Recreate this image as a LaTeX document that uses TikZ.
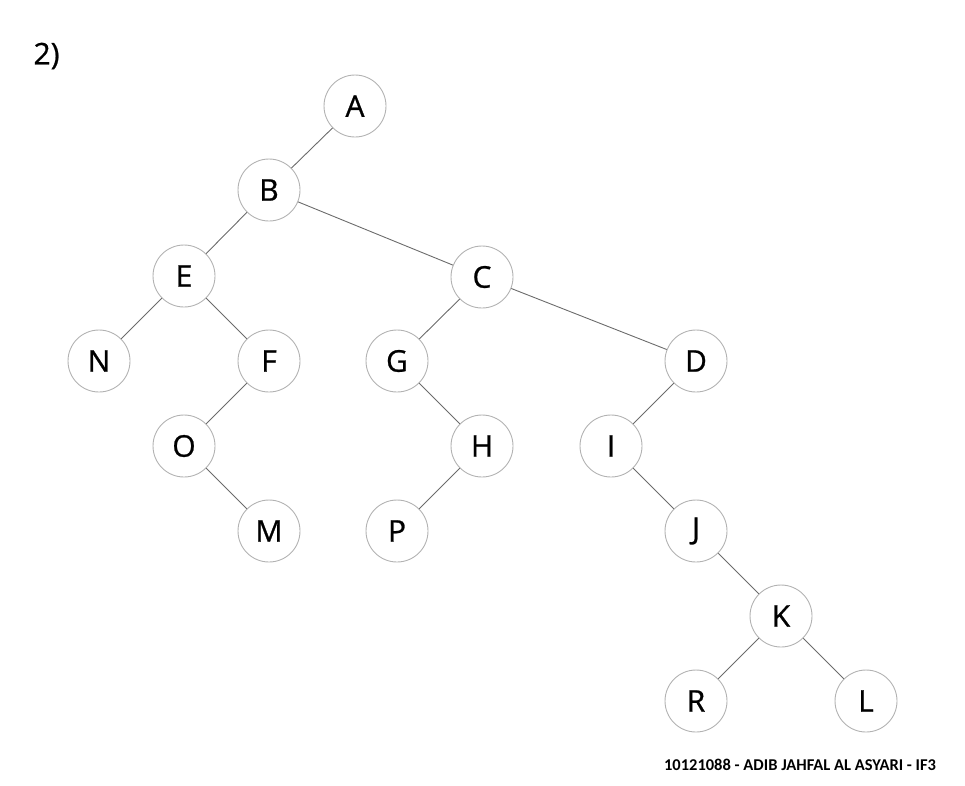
\documentclass[tikz,border=0pt]{standalone}
\usepackage{fontspec}
\setmainfont{Open Sans}
\newfontfamily\nodefont[FakeBold=0.8]{Open Sans}
\newfontfamily\footfont{Carlito}
\begin{document}
\begin{tikzpicture}[x=1pt,y=-1pt,
  vertex/.style={circle,draw=black!30,line width=0.9pt,minimum size=62pt,inner sep=0pt,
    font=\nodefont\fontsize{30}{30}\selectfont},
  link/.style={draw=black!58,line width=0.9pt}]
\useasboundingbox (0,0) rectangle (965,785);
\node[anchor=west,font=\nodefont\fontsize{30}{30}\selectfont] (num) at (30,56) {2)};
\node[vertex] (A) at (355,106) {A};
\node[vertex] (B) at (269,190) {B};
\node[vertex] (E) at (184,276) {E};
\node[vertex] (C) at (482,277) {C};
\node[vertex] (N) at (99,361) {N};
\node[vertex] (F) at (269,361) {F};
\node[vertex] (G) at (397,361) {G};
\node[vertex] (D) at (696,361) {D};
\node[vertex] (O) at (184,446) {O};
\node[vertex] (H) at (482,446) {H};
\node[vertex] (I) at (611,446) {I};
\node[vertex] (M) at (269,531) {M};
\node[vertex] (P) at (397,531) {P};
\node[vertex] (J) at (696,531) {J};
\node[vertex] (K) at (781,616) {K};
\node[vertex] (R) at (696,701) {R};
\node[vertex] (L) at (866,701) {L};
\foreach \u/\v in {A/B,B/E,B/C,E/N,E/F,F/O,O/M,C/G,C/D,G/H,H/P,D/I,I/J,J/K,K/R,K/L}
  \draw[link] (\u) -- (\v);
\node[font=\footfont\bfseries\fontsize{16.5}{16.5}\selectfont] (sig) at (800,765) {10121088 - ADIB JAHFAL AL ASYARI - IF3};
\end{tikzpicture}
\end{document}
